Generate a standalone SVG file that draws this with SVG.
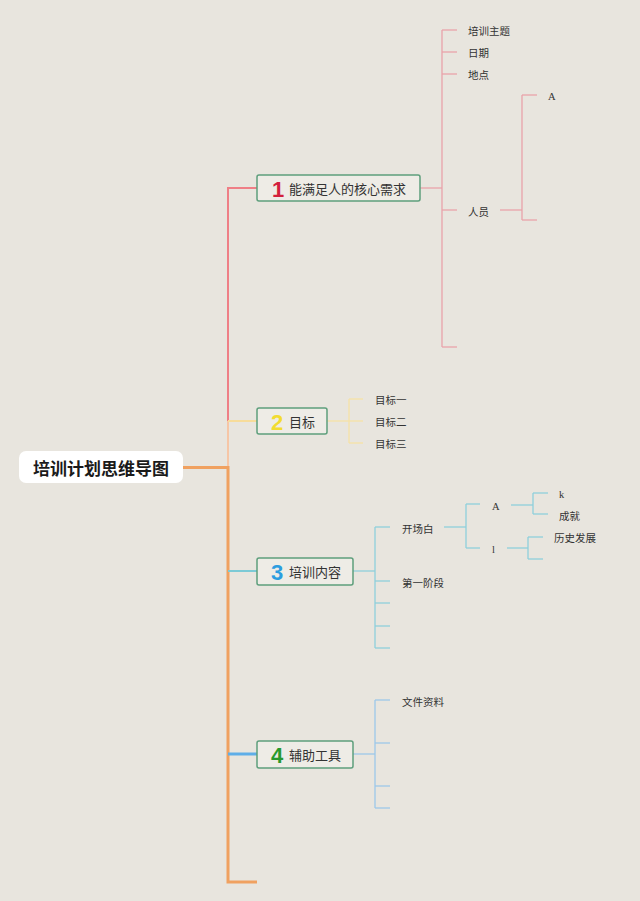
<svg xmlns="http://www.w3.org/2000/svg" width="640" height="901" viewBox="0 0 640 901">
<style>
text{font-family:"Noto Sans CJK SC","Liberation Sans",sans-serif;fill:#333;dominant-baseline:central}
.leaf{font-size:10.5px}
.lat{font-family:"Liberation Serif",serif;font-size:10.5px}
.main{font-size:13px}
.num{font-family:"Liberation Sans",sans-serif;font-weight:bold;font-size:22px}
.box{fill:#eeece6;stroke:#5e9f7c;stroke-width:1.5}
line,polyline{fill:none;stroke-linecap:butt}
.p{stroke:#e9a2aa;stroke-width:1.3}
.y{stroke:#f6e2a6;stroke-width:1.3}
.t{stroke:#8ed0dc;stroke-width:1.3}
.b{stroke:#9cc8ea;stroke-width:1.3}
</style>
<rect width="640" height="901" fill="#e8e5de"/>
<g id="connectors">
  <!-- root to trunk -->
  <line x1="183" y1="467.5" x2="229" y2="467.5" stroke="#f0a160" stroke-width="3"/>
  <!-- trunk -->
  <line x1="228" y1="187" x2="228" y2="421" stroke="#ef7f86" stroke-width="2"/>
  <line x1="228" y1="421" x2="228" y2="467" stroke="#f6c6a6" stroke-width="2"/>
  <polyline points="228,466 228,882 257,882" stroke="#f0a160" stroke-width="3"/>
  <line x1="227" y1="188" x2="257" y2="188" stroke="#ef7f86" stroke-width="2"/>
  <line x1="228" y1="421" x2="257" y2="421" stroke="#f7dc9a" stroke-width="2"/>
  <line x1="228" y1="571" x2="257" y2="571" stroke="#7ccad6" stroke-width="2"/>
  <line x1="228" y1="754" x2="257" y2="754" stroke="#5eaee8" stroke-width="3"/>
  <!-- branch 1 -->
  <line x1="420" y1="188" x2="442" y2="188" class="p"/>
  <line x1="442" y1="30" x2="442" y2="347" class="p"/>
  <line x1="442" y1="30" x2="457" y2="30" class="p"/>
  <line x1="442" y1="52" x2="457" y2="52" class="p"/>
  <line x1="442" y1="74" x2="457" y2="74" class="p"/>
  <line x1="442" y1="210" x2="457" y2="210" class="p"/>
  <line x1="442" y1="347" x2="457" y2="347" class="p"/>
  <line x1="500" y1="210" x2="522" y2="210" class="p"/>
  <line x1="522" y1="95" x2="522" y2="220" class="p"/>
  <line x1="522" y1="95" x2="537" y2="95" class="p"/>
  <line x1="522" y1="220" x2="537" y2="220" class="p"/>
  <!-- branch 2 -->
  <line x1="327" y1="421" x2="349" y2="421" class="y"/>
  <line x1="349" y1="399" x2="349" y2="443" class="y"/>
  <line x1="349" y1="399" x2="363" y2="399" class="y"/>
  <line x1="349" y1="421" x2="363" y2="421" class="y"/>
  <line x1="349" y1="443" x2="363" y2="443" class="y"/>
  <!-- branch 3 -->
  <line x1="353" y1="571" x2="375" y2="571" class="t"/>
  <line x1="375" y1="527" x2="375" y2="648" class="t"/>
  <line x1="375" y1="527" x2="390" y2="527" class="t"/>
  <line x1="375" y1="581" x2="390" y2="581" class="t"/>
  <line x1="375" y1="603" x2="390" y2="603" class="t"/>
  <line x1="375" y1="626" x2="390" y2="626" class="t"/>
  <line x1="375" y1="648" x2="390" y2="648" class="t"/>
  <line x1="444" y1="527" x2="466" y2="527" class="t"/>
  <line x1="466" y1="504" x2="466" y2="548" class="t"/>
  <line x1="466" y1="504" x2="480" y2="504" class="t"/>
  <line x1="466" y1="548" x2="480" y2="548" class="t"/>
  <line x1="511" y1="505" x2="533" y2="505" class="t"/>
  <line x1="533" y1="493" x2="533" y2="514" class="t"/>
  <line x1="533" y1="493" x2="548" y2="493" class="t"/>
  <line x1="533" y1="514" x2="548" y2="514" class="t"/>
  <line x1="507" y1="548" x2="528" y2="548" class="t"/>
  <line x1="528" y1="537" x2="528" y2="559" class="t"/>
  <line x1="528" y1="537" x2="543" y2="537" class="t"/>
  <line x1="528" y1="559" x2="543" y2="559" class="t"/>
  <!-- branch 4 -->
  <line x1="353" y1="754" x2="375" y2="754" class="b"/>
  <line x1="375" y1="700" x2="375" y2="808" class="b"/>
  <line x1="375" y1="700" x2="390" y2="700" class="b"/>
  <line x1="375" y1="743" x2="390" y2="743" class="b"/>
  <line x1="375" y1="786" x2="390" y2="786" class="b"/>
  <line x1="375" y1="808" x2="390" y2="808" class="b"/>
</g>
<g id="root">
  <rect x="19" y="451" width="164" height="32" rx="7" fill="#ffffff"/>
  <text x="101" y="467.5" text-anchor="middle" style="font-size:17px;font-weight:bold;fill:#1a1a1a">培训计划思维导图</text>
</g>
<g id="n1">
  <rect x="257" y="175" width="163" height="26" rx="2" class="box"/>
  <text x="272" y="189" class="num" style="fill:#d3203c">1</text>
  <text x="289" y="188.5" class="main">能满足人的核心需求</text>
</g>
<g id="n1-children">
  <text x="468" y="30" class="leaf">培训主题</text>
  <text x="468" y="52" class="leaf">日期</text>
  <text x="468" y="74" class="leaf">地点</text>
  <text x="468" y="211" class="leaf">人员</text>
  <text x="548" y="96" class="lat">A</text>
</g>
<g id="n2">
  <rect x="257" y="408" width="70" height="26" rx="2" class="box"/>
  <text x="271" y="422" class="num" style="fill:#f2dc30">2</text>
  <text x="289" y="421.5" class="main">目标</text>
</g>
<g id="n2-children">
  <text x="375" y="399" class="leaf">目标一</text>
  <text x="375" y="421" class="leaf">目标二</text>
  <text x="375" y="443" class="leaf">目标三</text>
</g>
<g id="n3">
  <rect x="257" y="558" width="96" height="27" rx="2" class="box"/>
  <text x="271" y="572" class="num" style="fill:#2b9de0">3</text>
  <text x="289" y="571.5" class="main">培训内容</text>
</g>
<g id="n3-children">
  <text x="402" y="528" class="leaf">开场白</text>
  <text x="402" y="582" class="leaf">第一阶段</text>
  <text x="492" y="506" class="lat">A</text>
  <text x="492" y="549" class="lat">l</text>
  <text x="559" y="494" class="lat">k</text>
  <text x="559" y="515" class="leaf">成就</text>
  <text x="554" y="537" class="leaf">历史发展</text>
</g>
<g id="n4">
  <rect x="257" y="741" width="96" height="27" rx="2" class="box"/>
  <text x="271" y="755" class="num" style="fill:#28992e">4</text>
  <text x="289" y="754.5" class="main">辅助工具</text>
</g>
<g id="n4-children">
  <text x="402" y="701" class="leaf">文件资料</text>
</g>
</svg>
